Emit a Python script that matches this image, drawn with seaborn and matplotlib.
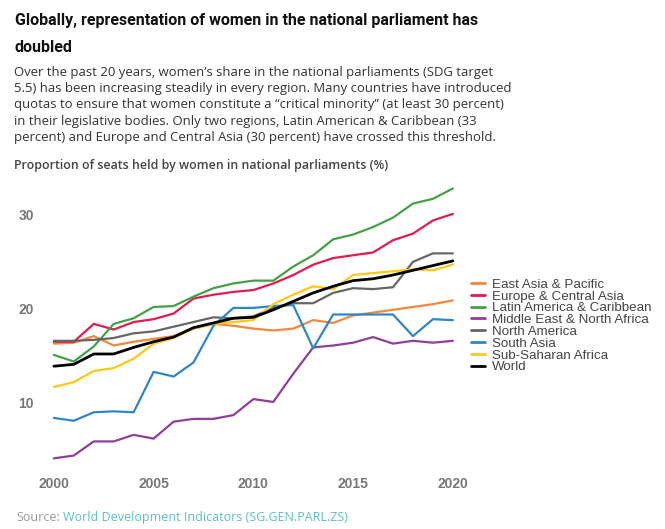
import numpy as np
import pandas as pd
import matplotlib
matplotlib.use("Agg")
import matplotlib.pyplot as plt
import seaborn as sns

# Datos
years = list(range(2000, 2021))

east_asia = [16.3, 16.4, 17.1, 16.1, 16.5, 16.8, 17.1, 17.9, 18.4, 18.2, 17.9, 17.7, 17.9, 18.8, 18.5, 19.3, 19.6, 19.9, 20.2, 20.5, 20.9]
europe = [16.5, 16.5, 18.4, 17.8, 18.6, 18.9, 19.5, 21.1, 21.5, 21.8, 22.0, 22.7, 23.6, 24.7, 25.4, 25.7, 26.0, 27.3, 28.0, 29.4, 30.1]
latam = [15.1, 14.4, 16.0, 18.4, 19.0, 20.2, 20.3, 21.3, 22.2, 22.7, 23.0, 23.0, 24.5, 25.7, 27.4, 27.9, 28.7, 29.7, 31.2, 31.7, 32.8]
mena = [4.1, 4.4, 5.9, 5.9, 6.6, 6.2, 8.0, 8.3, 8.3, 8.7, 10.4, 10.1, 13.1, 15.9, 16.1, 16.4, 17.0, 16.3, 16.6, 16.4, 16.6]
north_america = [16.6, 16.6, 16.7, 16.9, 17.4, 17.6, 18.1, 18.6, 19.1, 19.0, 19.2, 20.1, 20.6, 20.6, 21.7, 22.2, 22.1, 22.3, 25.0, 25.9, 25.9]
south_asia = [8.4, 8.1, 9.0, 9.1, 9.0, 13.3, 12.8, 14.3, 18.2, 20.1, 20.1, 20.3, 20.4, 15.8, 19.4, 19.4, 19.4, 19.4, 17.1, 18.9, 18.8]
ssa = [11.7, 12.2, 13.4, 13.7, 14.7, 16.3, 16.9, 17.9, 18.4, 18.6, 18.8, 20.5, 21.5, 22.4, 22.1, 23.6, 23.8, 24.0, 24.2, 24.1, 24.7]
world = [13.9, 14.1, 15.2, 15.2, 15.9, 16.5, 17.0, 18.0, 18.5, 19.0, 19.1, 19.9, 20.8, 21.7, 22.4, 23.0, 23.2, 23.6, 24.1, 24.6, 25.1]

regions = ["East Asia & Pacific", "Europe & Central Asia", "Latin America & Caribbean",
           "Middle East & North Africa", "North America", "South Asia",
           "Sub-Saharan Africa", "World"]
colores = ["#f0883e", "#e31b4f", "#43a047", "#8e3f98", "#666666", "#2f86c6", "#ffc814", "#000000"]

series = [east_asia, europe, latam, mena, north_america, south_asia, ssa, world]
df = pd.DataFrame({"year": years * len(regions),
                   "region": np.repeat(regions, len(years)),
                   "value": np.concatenate(series)})

# Grafico
sns.set_theme(style="white")
fig = plt.figure(figsize=(6.65, 5.29), dpi=100)
ax = fig.add_axes([0.057, 0.114, 0.642, 0.551])

sns.lineplot(data=df, x="year", y="value", hue="region", hue_order=regions,
             palette=dict(zip(regions, colores)), linewidth=1.6, ax=ax)
ax.lines[len(regions) - 1].set_linewidth(2.0)

ax.set_xlim(1999.2, 2020.6)
ax.set_ylim(3, 34)
ax.set_xticks([2000, 2005, 2010, 2015, 2020])
ax.set_yticks([10, 20, 30])
ax.set_xlabel("")
ax.set_ylabel("")
sns.despine(ax=ax, left=True, bottom=True)
ax.tick_params(length=0, labelsize=10, labelcolor="#777777")
ax.tick_params(axis="x", pad=6)
ax.tick_params(axis="y", pad=3)
for t in ax.get_xticklabels() + ax.get_yticklabels():
    t.set_family("Liberation Sans")
    t.set_fontweight("bold")

leg = ax.legend(loc="center left", bbox_to_anchor=(1.003, 0.49), frameon=False,
                prop={"family": "Liberation Sans", "size": 9.6},
                handlelength=1.0, handletextpad=0.55, labelspacing=-0.04, borderaxespad=0)
for h in leg.get_lines():
    h.set_linewidth(2.0)
for t in leg.get_texts():
    t.set_color("#444444")

# Textos
fig.text(0.022, 0.962, "Globally, representation of women in the national parliament has",
         family="Roboto", fontweight="bold", fontsize=11.55, color="#111111", va="center")
fig.text(0.022, 0.911, "doubled", family="Roboto", fontweight="bold", fontsize=11.55,
         color="#111111", va="center")
subtitulo = ("Over the past 20 years, women\u2019s share in the national parliaments (SDG target\n"
             "5.5) has been increasing steadily in every region. Many countries have introduced\n"
             "quotas to ensure that women constitute a \u201ccritical minority\u201d (at least 30 percent)\n"
             "in their legislative bodies. Only two regions, Latin American & Caribbean (33\n"
             "percent) and Europe and Central Asia (30 percent) have crossed this threshold.")
fig.text(0.021, 0.876, subtitulo, family="Open Sans", fontsize=9.45, color="#333333",
         va="top", linespacing=1.34)
fig.text(0.021, 0.687, "Proportion of seats held by women in national parliaments (%)",
         family="Open Sans", fontsize=8.9, color="#444444", va="center", fontweight="semibold")
fig.text(0.024, 0.022, "Source:", family="Open Sans", fontsize=9.0, color="#999999", va="center")
fig.text(0.095, 0.022, "World Development Indicators (SG.GEN.PARL.ZS)", family="Open Sans",
         fontsize=9.0, color="#5bbfc8", va="center")

plt.savefig("out.png", dpi=100)
